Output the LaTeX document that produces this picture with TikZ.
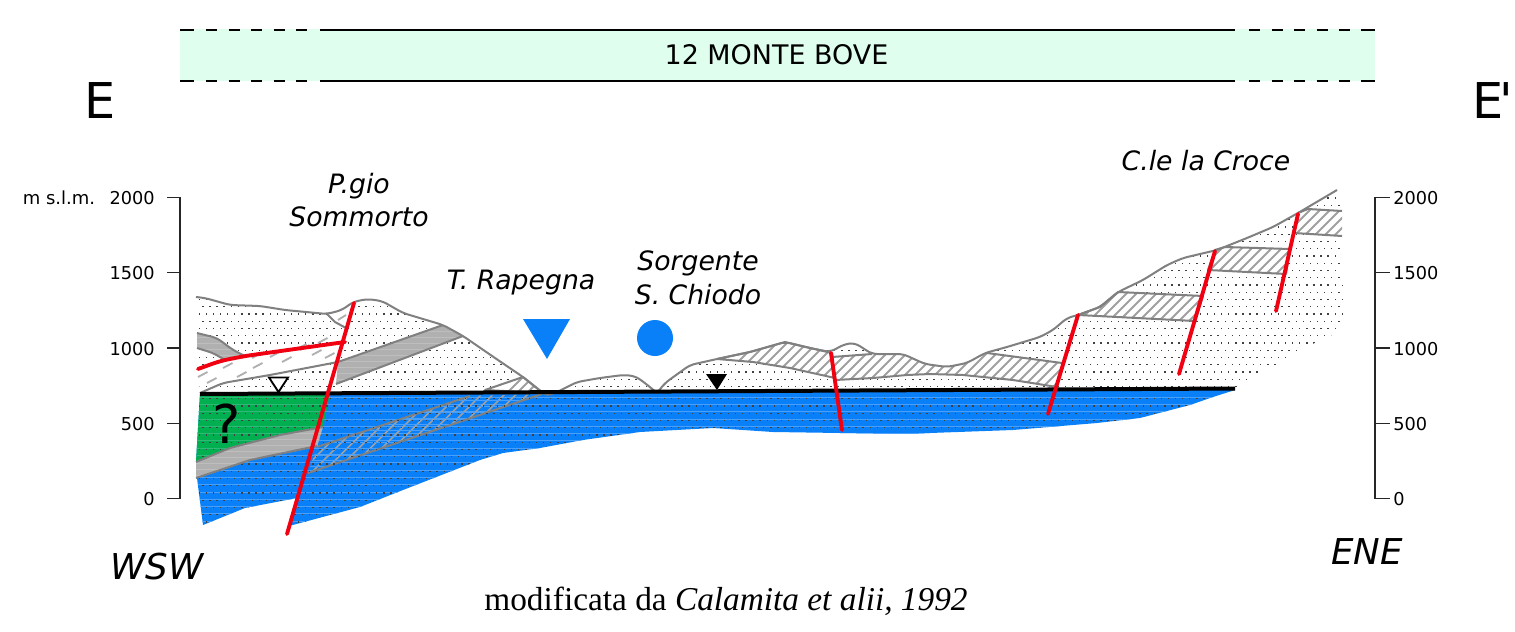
\documentclass[tikz,border=0pt]{standalone}
\usepackage{fontspec}
\setmainfont{DejaVu Sans}
\newfontfamily\plainf{DejaVu Sans}
\newfontfamily\timesf{Liberation Serif}
\definecolor{aqua}{HTML}{0A80F8}
\definecolor{streak}{HTML}{4AA0F8}
\definecolor{aquiclude}{HTML}{00B050}
\definecolor{greenstreak}{HTML}{30B878}
\definecolor{mint}{HTML}{DFFEEE}
\definecolor{band}{HTML}{B0B0B0}
\definecolor{bandstreak}{HTML}{BEBEBE}
\definecolor{outline}{HTML}{808080}
\definecolor{hatchc}{HTML}{A0A0A0}
\definecolor{fault}{HTML}{F00010}
\tikzset{
  contour/.style={draw=outline,line width=1.5,line join=round},
  faultline/.style={draw=fault,line width=2.9,line cap=round},
  hatchline/.style={draw=hatchc,line width=1.4},
  axisline/.style={draw=black!85,line width=1},
  bandline/.style={draw=black,line width=1.5},
  dashbit/.style={draw=band,line width=1.4},
  lab/.style={font=\fontsize{20}{24}\selectfont\itshape,inner sep=0pt,align=center},
  tickl/.style={font=\fontsize{13.3}{16}\selectfont,inner sep=0pt}
}
% dot screen: x start, columns, y start, rows
\newcommand{\dotscreen}[4]{%
  \foreach \rr in {0,...,#4}{%
    \pgfmathsetmacro{\yy}{#3+7.25*\rr}%
    \pgfmathsetmacro{\shft}{mod(\rr,2)*3.5}%
    \foreach \kk in {0,...,#2}{%
      \pgfmathsetmacro{\xx}{#1+7.1*\kk+\shft}%
      \fill[black!75] (\xx,\yy) rectangle ++(1.4,1.4);%
    }%
  }%
}
% hatching "/" clipped by the current scope
\newcommand{\hatchscreen}[2]{%
  \foreach \cc in {#1,...,#2}{\pgfmathsetmacro{\ccx}{\cc*10}\draw[hatchline] (\ccx,600) -- ++(600,-600);}%
}
\def\terrainL{(196,297) -- (205,298) -- (230,305) -- (260,306) -- (285,310) -- (327,314) -- (342,310) -- (353,302) -- (367,299) -- (382,301) -- (403,313) -- (443,325) -- (463,336) -- (495,358) -- (523,377) -- (543,393)}
\def\terrainM{(555,393) -- (577,382) -- (600,378) -- (623,375) -- (635,376) -- (645,383) -- (657,393)}
\def\terrainR{(657,393) -- (665,383) -- (690,365) -- (717,359) -- (750,352) -- (785,342) -- (810,348) -- (830,352) -- (845,344) -- (855,343) -- (872,354) -- (903,354) -- (925,364) -- (947,367) -- (967,363) -- (985,353) -- (1007,347) -- (1040,337) -- (1053,330) -- (1067,318) -- (1078,315) -- (1100,307) -- (1118,292) -- (1143,280) -- (1167,265) -- (1183,258) -- (1217,250) -- (1247,238) -- (1273,227) -- (1298,213) -- (1337,190)}
\def\bluepoly{(200,394) -- (1235,390) -- (1213,397) -- (1190,405) -- (1140,418) -- (1097,423) -- (1013,430) -- (930,433) -- (907,434) -- (840,433) -- (773,432) -- (713,428) -- (640,432) -- (583,440) -- (540,448) -- (503,453) -- (480,460) -- (403,490) -- (360,507) -- (289,526) -- (297,498) -- (245,508) -- (203,525) -- (197,478) -- (196,462) -- cycle}
\def\greenpoly{(200,394) -- (330,394) -- (323,427) -- (280,435) -- (230,448) -- (196,462) -- cycle}
\def\bandA{(196,462) -- (230,448) -- (280,435) -- (323,427) -- (317,447) -- (250,460) -- (196,478) -- cycle}
\def\bandB{(338,362) -- (443,325) -- (463,336) -- (336,384) -- cycle}
\def\bandC{(197,333) -- (217,338) -- (233,350) -- (245,356) -- (225,360) -- (213,353) -- (197,348) -- cycle}
\newcommand{\greyband}[1]{%
  \fill[band] #1;
  \begin{scope}\clip #1;
    \foreach \yy in {325,331,...,480}{\draw[bandstreak,line width=0.5] (190,\yy) -- (470,\yy);}
  \end{scope}
}
\newcommand{\hatchedunit}[3]{%
  \fill[white] #1;
  \begin{scope}\clip #1;\hatchscreen{#2}{#3}\end{scope}
  \draw[contour] #1;
}
\begin{document}
\begin{tikzpicture}[x=0.75pt,y=-0.75pt]
\useasboundingbox (0,0) rectangle (1515,631);
% top band
\fill[mint] (180,29) rectangle (1375,81);
\foreach \yy in {29.7,81}{
  \draw[bandline] (180,\yy) -- (194,\yy);
  \foreach \ss in {206,228.5,251,273.5,296}{\draw[bandline] (\ss,\yy) -- ++(11,0);}
  \draw[bandline] (320,\yy) -- (1235,\yy);
  \foreach \ss in {1249,1271.5,1294,1316.5,1339}{\draw[bandline] (\ss,\yy) -- ++(11,0);}
  \draw[bandline] (1361,\yy) -- (1375,\yy);
}
\node[inner sep=0pt,font=\fontsize{20.2}{24}\selectfont] (title) at (776.5,55) {12 MONTE BOVE};
\node[inner sep=0pt,font=\fontsize{37}{44}\selectfont] (sideE) at (100,101) {E};
\node[inner sep=0pt,anchor=west,font=\fontsize{37}{44}\plainf] (sideEp) at (1472,101) {E\kern-3pt'};
% axes
\draw[axisline] (167,197.5) -- (180,197.5) -- (180,498.5) -- (167,498.5);
\foreach \yy in {272.5,348,423.5}{\draw[axisline] (167,\yy) -- (180,\yy);}
\draw[axisline] (1390,197.5) -- (1375,197.5) -- (1375,498.5) -- (1390,498.5);
\foreach \yy in {272.5,348,423.5}{\draw[axisline] (1375,\yy) -- (1390,\yy);}
\foreach \yy/\lbl [count=\ii] in {198/2000,273/1500,349/1000,424/500,499/0}{
  \node[tickl,anchor=east] (lt\ii) at (155,\yy) {\lbl};
  \node[tickl,anchor=west] (rt\ii) at (1393,\yy) {\lbl};
}
\node[inner sep=0pt,font=\fontsize{13.5}{16}\selectfont] (msl) at (59,198) {m s.l.m.};
% saturated bodies
\fill[aqua] \bluepoly;
\fill[aquiclude] \greenpoly;
\begin{scope}
  \clip \bluepoly;
  \foreach \yy in {397,404.3,...,530}{\draw[streak,line width=0.5] (190,\yy) -- (1240,\yy);}
\end{scope}
\begin{scope}
  \clip \greenpoly;
  \foreach \yy in {397,404.3,...,470}{\draw[greenstreak,line width=0.5] (190,\yy) -- (340,\yy);}
\end{scope}
% hatched carbonate unit under the water table
\begin{scope}
  \clip (308,473) -- (542,394) -- (470,396) -- (317,447) -- cycle;
  \foreach \cc in {6,...,36}{\pgfmathsetmacro{\ccx}{\cc*11.5}\draw[hatchc,line width=1.1] (\ccx,600) -- ++(600,-600);}
  \foreach \yy in {400,406,...,470}{\draw[streak,line width=0.5] (300,\yy) -- (550,\yy);}
\end{scope}
\draw[contour] (308,473) -- (542,394);
\draw[contour] (317,447) -- (470,396);
% dots
\begin{scope}
  \clip \terrainL -- (555,393) -- (557,393) -- \terrainM -- \terrainR -- (1342,200) -- (1343,317) -- (1340,330) -- (1327,338) -- (1310,345) -- (1288,360) -- (1270,367) -- (1247,382) -- (1235,389) -- (200,393) -- cycle;
  \dotscreen{195}{162}{190}{27}
\end{scope}
\begin{scope}
  \clip \bluepoly;
  \dotscreen{195}{147}{398}{18}
\end{scope}
% grey bands
\greyband{\bandA}
\draw[contour] (196,462) -- (230,448) -- (280,435) -- (323,427);
\draw[contour] (196,478) -- (250,460) -- (317,446);
\greyband{\bandB}
\draw[contour] (336,384) -- (463,336);
\greyband{\bandC}
\draw[contour,rounded corners=4pt] (197,333) -- (217,338) -- (233,350) -- (245,356);
\draw[contour,rounded corners=4pt] (197,348) -- (213,353) -- (225,360);
% dashed unit
\fill[white] (198,369) -- (220,361) -- (245,356) -- (345,342) -- (338,362) -- (270,375) -- (223,383) -- (197,384) -- cycle;
\foreach \dx/\dy in {198/377,207/383,223/368,237/377,253/368,252/358,270/357,282/362,297/349,312/355,325/358,318/343,300/350}{
  \draw[dashbit] (\dx,\dy) -- ++(9.5,-5);
}
\draw[contour,rounded corners=4pt] (200,393) -- (223,383) -- (270,375) -- (338,362) -- (443,325);
\fill[white] (327,314) -- (335,322) -- (346,328) -- (353,302) -- cycle;
\draw[dashbit] (338,320) -- (346,315);
\draw[contour] (327,314) -- (335,322) -- (346,328);
% hatched units above the water table
\hatchedunit{(485,390) -- (523,377) -- (543,393) -- cycle}{30}{50}
\hatchedunit{(717,359) -- (750,352) -- (785,342) -- (810,348) -- (832,353) -- (835,378) -- (790,368) -- (753,362) -- cycle}{50}{90}
\fill[white] (832,357) -- (872,354) -- (903,354) -- (925,364) -- (947,367) -- (967,363) -- (987,353) -- (1062,363) -- (1057,387) -- (1013,380) -- (963,375) -- (930,374) -- (907,375) -- (873,378) -- (835,380) -- cycle;
\begin{scope}
  \clip (832,357) -- (872,354) -- (903,354) -- (925,364) -- (947,367) -- (967,363) -- (987,353) -- (1062,363) -- (1057,387) -- (1013,380) -- (963,375) -- (930,374) -- (907,375) -- (873,378) -- (835,380) -- cycle;
  \hatchscreen{60}{110}
\end{scope}
\draw[contour] (832,357) -- (872,354);
\draw[contour] (987,353) -- (1062,363);
\draw[contour] (835,380) -- (873,378) -- (907,375) -- (930,374) -- (963,375) -- (1013,380) -- (1057,387);
\hatchedunit{(1078,315) -- (1100,307) -- (1118,292) -- (1203,296) -- (1195,321) -- cycle}{70}{100}
\hatchedunit{(1215,250) -- (1225,247) -- (1290,249) -- (1286,274) -- (1208,270) -- cycle}{80}{110}
\fill[white] (1298,213) -- (1308,209) -- (1342,211) -- (1342,236) -- (1294,233) -- cycle;
\begin{scope}
  \clip (1298,213) -- (1308,209) -- (1342,211) -- (1342,236) -- (1294,233) -- cycle;
  \hatchscreen{90}{120}
\end{scope}
\draw[contour] (1298,213) -- (1308,209) -- (1342,211);
\draw[contour] (1294,233) -- (1342,236);
% topography
\draw[contour,rounded corners=4pt] \terrainL -- (548,395) -- \terrainM;
\draw[contour,rounded corners=4pt] \terrainR;
% water table
\draw[black,line width=3] (200,394) -- (1235,388.5);
% faults
\draw[faultline,rounded corners=6pt] (198,369) -- (220,361) -- (245,356) -- (345,342);
\draw[faultline] (287,534) -- (354,303);
\draw[faultline] (831,353) -- (842,430);
\draw[faultline] (1078,315) -- (1048,414);
\draw[faultline] (1215,251) -- (1179,374);
\draw[faultline] (1298,214) -- (1276,311);
% symbols
\draw[black,fill=white,line width=1.4] (269,377.5) -- (288,377.5) -- (278.5,392) -- cycle;
\fill[black] (706,374) -- (727,374) -- (717,390) -- cycle;
\fill[aqua] (523,319) -- (570,319) -- (547,359) -- cycle;
\fill[aqua] (655,338) circle (18);
% labels
\node[lab] (pgio) at (359,200) {P.gio\\[0.6pt]Sommorto};
\node[lab] (rapegna) at (521,283) {T. Rapegna};
\node[lab] (sorgente) at (698,277.5) {Sorgente\\[1.5pt]S. Chiodo};
\node[lab] (croce) at (1206,161) {C.le la Croce};
\node[lab,font=\fontsize{26.7}{30}\selectfont\itshape] (wsw) at (157,567) {WSW};
\node[lab,font=\fontsize{26.7}{30}\selectfont\itshape] (ene) at (1367,552) {ENE};
\node[inner sep=0pt,font=\fontsize{40}{44}\selectfont] (qm) at (227,424) {?};
\node[inner sep=0pt,font=\fontsize{25}{30}\selectfont\timesf] (credit) at (726,601) {modificata da \textit{Calamita et alii, 1992}};
\end{tikzpicture}
\end{document}
